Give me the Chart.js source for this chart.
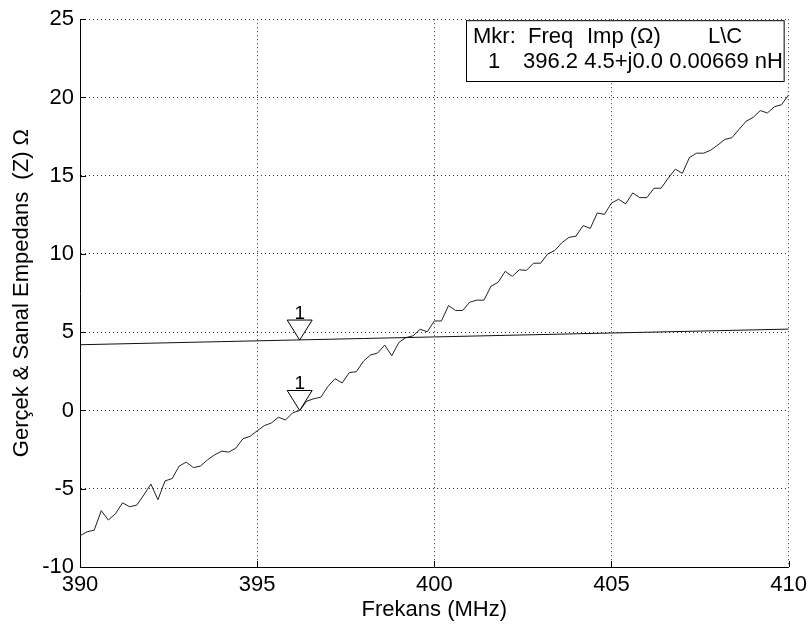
<!DOCTYPE html>
<html>
<head>
<meta charset="utf-8">
<script src="https://cdn.jsdelivr.net/npm/chart.js@4/dist/chart.umd.min.js"></script>
<style>
  html, body { margin: 0; padding: 0; background: #fff; }
  #wrap { width: 812px; height: 639px; position: relative; }
</style>
</head>
<body>
<div id="wrap"><canvas id="c" width="812" height="639"></canvas></div>
<script>
// ---- data ----
const freqMHz = [
  390.0, 390.2, 390.4, 390.6, 390.8, 391.0, 391.2, 391.4, 391.6, 391.8,
  392.0, 392.2, 392.4, 392.6, 392.8, 393.0, 393.2, 393.4, 393.6, 393.8,
  394.0, 394.2, 394.4, 394.6, 394.8, 395.0, 395.2, 395.4, 395.6, 395.8,
  396.0, 396.2, 396.4, 396.6, 396.8, 397.0, 397.2, 397.4, 397.6, 397.8,
  398.0, 398.2, 398.4, 398.6, 398.8, 399.0, 399.2, 399.4, 399.6, 399.8,
  400.0, 400.2, 400.4, 400.6, 400.8, 401.0, 401.2, 401.4, 401.6, 401.8,
  402.0, 402.2, 402.4, 402.6, 402.8, 403.0, 403.2, 403.4, 403.6, 403.8,
  404.0, 404.2, 404.4, 404.6, 404.8, 405.0, 405.2, 405.4, 405.6, 405.8,
  406.0, 406.2, 406.4, 406.6, 406.8, 407.0, 407.2, 407.4, 407.6, 407.8,
  408.0, 408.2, 408.4, 408.6, 408.8, 409.0, 409.2, 409.4, 409.6, 409.8,
  410.0
];
const imagOhm = [
  -8.0, -7.75, -7.65, -6.4, -7.0, -6.6, -5.9, -6.15, -6.05, -5.4,
  -4.7, -5.7, -4.5, -4.35, -3.55, -3.3, -3.65, -3.55, -3.15, -2.83,
  -2.6, -2.66, -2.4, -1.8, -1.65, -1.3, -0.97, -0.8, -0.43, -0.61,
  -0.15, 0.0, 0.6, 0.75, 0.85, 1.55, 2.03, 1.76, 2.42, 2.48,
  3.15, 3.55, 3.67, 4.18, 3.5, 4.35, 4.66, 4.77, 5.19, 5.03,
  5.72, 5.72, 6.7, 6.39, 6.39, 6.92, 7.05, 7.05, 7.94, 8.19,
  8.89, 8.57, 8.99, 8.95, 9.41, 9.41, 10.0, 10.22, 10.72, 11.06,
  11.14, 11.82, 11.63, 12.62, 12.53, 13.25, 13.5, 13.2, 13.9, 13.6,
  13.6, 14.2, 14.2, 14.84, 15.42, 15.15, 16.16, 16.44, 16.44, 16.63,
  16.96, 17.32, 17.43, 17.96, 18.48, 18.73, 19.16, 19.01, 19.41, 19.54,
  20.17
];
const realFreqMHz = [390, 392, 394, 396, 398, 400, 402, 404, 406, 408, 410];
const realOhm     = [4.2, 4.3, 4.4, 4.5, 4.6, 4.7, 4.8, 4.9, 5.0, 5.1, 5.2];

const markerFreq = 396.2;
const markerValues = [4.5, 0.0];
const markerLabel = "1";

const xTicks = [390, 395, 400, 405, 410];
const yTicks = [-10, -5, 0, 5, 10, 15, 20, 25];

const tableHeader = ["Mkr:", "Freq", "Imp (\u03A9)", "L\\C"];
const tableRow    = ["1", "396.2", "4.5+j0.0", "0.00669 nH"];

const xTitle = "Frekans (MHz)";
const yTitle = "Ger\u00E7ek & Sanal Empedans  (Z) \u03A9";

// ---- chart ----
const FONT = "'Liberation Sans', Arial, Helvetica, sans-serif";
const FS = 22;

const insideTicks = {
  id: 'insideTicks',
  afterDraw(chart) {
    const {ctx, chartArea: a, scales: {x, y}} = chart;
    ctx.save();
    ctx.strokeStyle = '#000';
    ctx.lineWidth = 1;
    ctx.beginPath();
    xTicks.forEach(v => {
      const px = Math.round(x.getPixelForValue(v)) + 0.5;
      ctx.moveTo(px, a.bottom); ctx.lineTo(px, a.bottom - 6);
    });
    yTicks.forEach(v => {
      const py = Math.round(y.getPixelForValue(v)) + 0.5;
      ctx.moveTo(a.left, py); ctx.lineTo(a.left + 6, py);
    });
    ctx.stroke();
    ctx.restore();
  }
};

const markers = {
  id: 'markers',
  afterDatasetsDraw(chart) {
    const {ctx, scales: {x, y}} = chart;
    ctx.save();
    markerValues.forEach(v => {
      const px = x.getPixelForValue(markerFreq);
      const py = y.getPixelForValue(v);
      const w = 25, h = 20;
      ctx.beginPath();
      ctx.moveTo(px, py);
      ctx.lineTo(px - w / 2, py - h);
      ctx.lineTo(px + w / 2, py - h);
      ctx.closePath();
      ctx.fillStyle = '#fff';
      ctx.fill();
      ctx.strokeStyle = '#000';
      ctx.lineWidth = 1;
      ctx.stroke();
      ctx.fillStyle = '#000';
      ctx.font = '19px ' + FONT;
      ctx.textAlign = 'center';
      ctx.textBaseline = 'alphabetic';
      ctx.fillText(markerLabel, px, py - h - 1);
    });
    ctx.restore();
  }
};

const markerTable = {
  id: 'markerTable',
  afterDraw(chart) {
    const {ctx, chartArea: a} = chart;
    const left = 466, right = a.right - 5, top = a.top + 1, bottom = 81;
    ctx.save();
    ctx.fillStyle = '#fff';
    ctx.fillRect(left, top, right - left, bottom - top);
    ctx.strokeStyle = '#000';
    ctx.lineWidth = 1;
    ctx.strokeRect(left + 0.5, top + 0.5, right - left, bottom - top);
    ctx.fillStyle = '#000';
    ctx.font = FS + 'px ' + FONT;
    ctx.textBaseline = 'alphabetic';
    ctx.textAlign = 'left';
    const hx = [473, 528, 587, 708];
    tableHeader.forEach((t, i) => ctx.fillText(t, hx[i], 43));
    ctx.fillText(tableRow[0], 488, 68);
    ctx.fillText(tableRow.slice(1).join(' '), 523, 68);
    ctx.restore();
  }
};

const axisFont = {family: FONT, size: FS};

new Chart(document.getElementById('c'), {
  type: 'scatter',
  data: {
    datasets: [
      {
        data: realFreqMHz.map((f, i) => ({x: f, y: realOhm[i]})),
        showLine: true, borderColor: '#111', borderWidth: 1,
        pointRadius: 0, tension: 0
      },
      {
        data: freqMHz.map((f, i) => ({x: f, y: imagOhm[i]})),
        showLine: true, borderColor: '#222', borderWidth: 1,
        pointRadius: 0, tension: 0
      }
    ]
  },
  options: {
    responsive: false,
    animation: false,
    events: [],
    layout: {padding: {left: 0, right: 22, top: 13, bottom: 0}},
    plugins: {legend: {display: false}, tooltip: {enabled: false}},
    scales: {
      x: {
        type: 'linear', min: 390, max: 410,
        afterBuildTicks: s => { s.ticks = xTicks.map(v => ({value: v})); },
        afterFit: s => { s.height = 72; },
        ticks: {color: '#000', font: axisFont, padding: 5, maxRotation: 0},
        grid: {color: '#333', lineWidth: 1, drawTicks: false},
        border: {display: true, color: '#000', width: 1, dash: [1, 3]},
        title: {display: true, text: xTitle, color: '#000', font: axisFont, padding: {top: 0, bottom: 16}}
      },
      y: {
        type: 'linear', min: -10, max: 25,
        afterBuildTicks: s => { s.ticks = yTicks.map(v => ({value: v})); },
        afterFit: s => { s.width = 80; },
        ticks: {color: '#000', font: axisFont, padding: 6},
        grid: {color: '#333', lineWidth: 1, drawTicks: false},
        border: {display: true, color: '#000', width: 1, dash: [1, 3]},
        title: {display: true, text: yTitle, color: '#000', font: axisFont, padding: {top: 9, bottom: 0}}
      }
    }
  },
  plugins: [insideTicks, markers, markerTable]
});
</script>
</body>
</html>
